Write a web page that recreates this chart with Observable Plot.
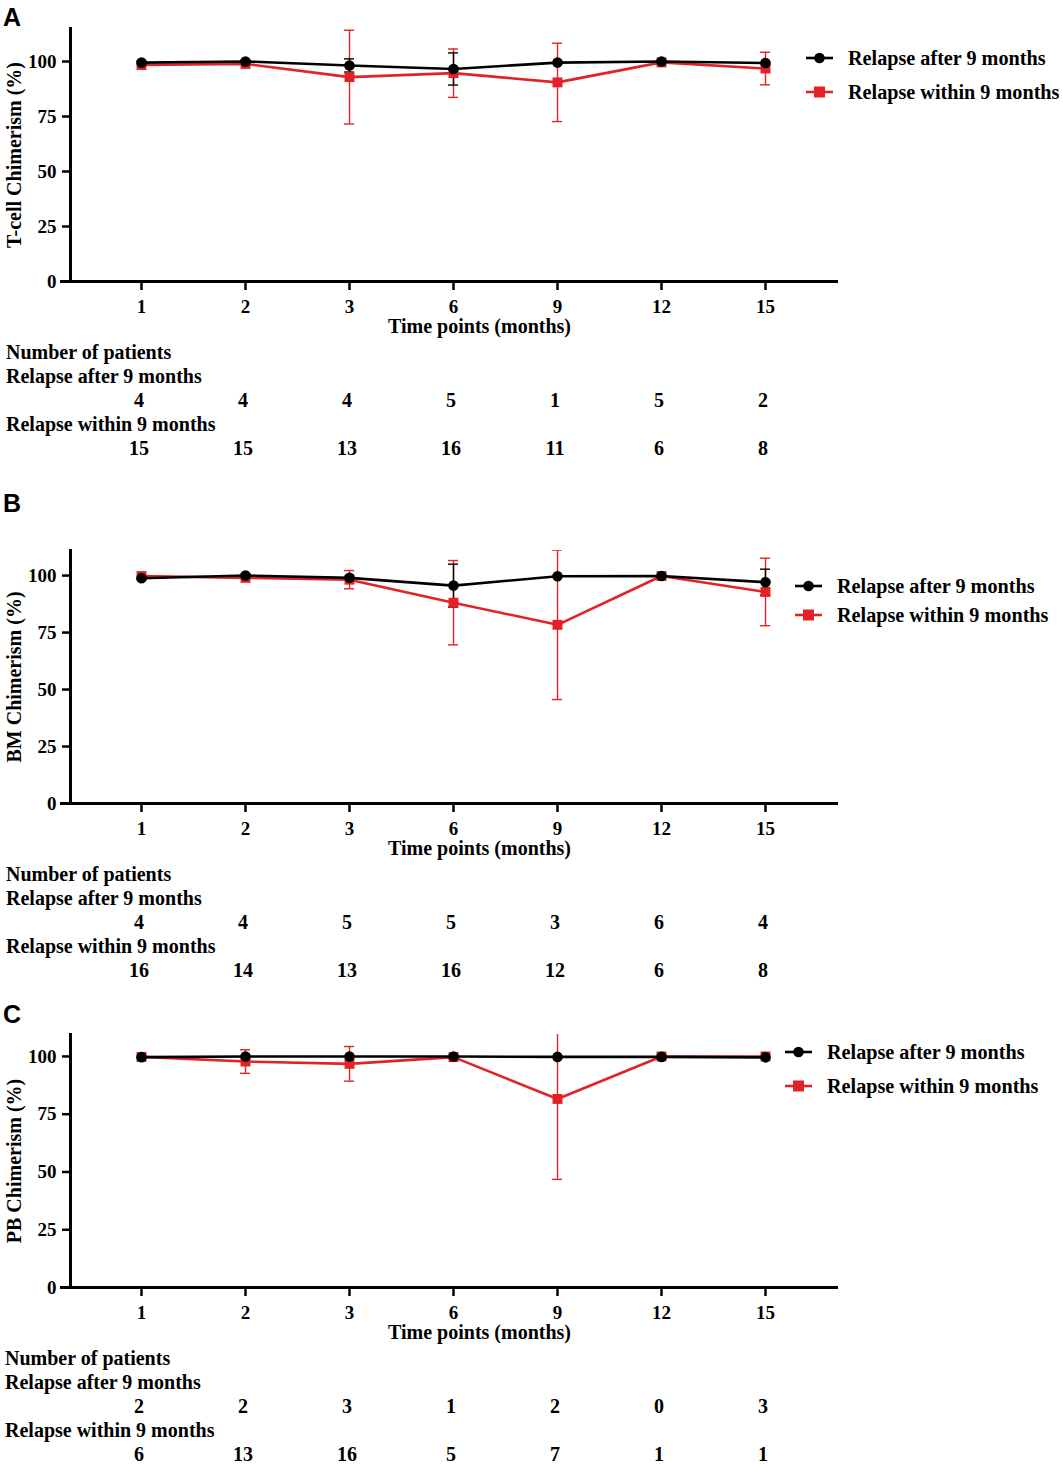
<!DOCTYPE html>
<html><head><meta charset="utf-8">
<script src="https://cdn.jsdelivr.net/npm/d3@7"></script>
<script src="https://cdn.jsdelivr.net/npm/@observablehq/plot@0.6"></script>
<style>
body{margin:0;background:#fff;}
#root{position:relative;width:1063px;height:1464px;overflow:hidden;font-family:"Liberation Serif","Times New Roman",serif;font-weight:bold;color:#000;}
.abs{position:absolute;white-space:nowrap;line-height:1;}
.letter{font-family:"Liberation Sans",Arial,sans-serif;font-size:25px;font-weight:bold;}
.tbl{font-size:20px;transform:translateY(-50%);}
.num{font-size:20px;transform:translate(-50%,-50%);}
.leg{font-size:20.2px;transform:translateY(-50%);}
svg.plot{position:absolute;left:0;overflow:visible;}
</style></head>
<body><div id="root"></div>
<script>
const timepoints = ["1","2","3","6","9","12","15"];
const seriesNames = ["Relapse after 9 months","Relapse within 9 months"];
const seriesColors = ["#000000","#e32228"];
const yTicks = [0,25,50,75,100];

// Panel A: T-cell chimerism
const tcellAfterMean  = [99.5,100,98.2,96.6,99.5,100,99.3];
const tcellAfterSD    = [0,0,3,7.3,0,0,0];
const tcellWithinMean = [98.4,98.9,92.9,94.7,90.5,99.6,96.8];
const tcellWithinSD   = [0,0,21.3,11,17.8,0,7.4];
const tcellNAfter  = [4,4,4,5,1,5,2];
const tcellNWithin = [15,15,13,16,11,6,8];

// Panel B: BM chimerism
const bmAfterMean  = [98.8,100,99,95.6,99.7,99.8,97.1];
const bmAfterSD    = [0,0,0,9.4,0,0,5.7];
const bmWithinMean = [99.8,99,98.2,88.1,78.4,99.8,92.8];
const bmWithinSD   = [0,0,4,18.5,32.8,0,14.8];
const bmNAfter  = [4,4,5,5,3,6,4];
const bmNWithin = [16,14,13,16,12,6,8];

// Panel C: PB chimerism
const pbAfterMean  = [99.7,100,100,100,99.8,99.8,99.6];
const pbAfterSD    = [0,0,0,0,0,0,0];
const pbWithinMean = [99.8,97.8,96.8,99.7,81.6,100,100];
const pbWithinSD   = [0,5.1,7.5,0,34.8,0,0];
const pbNAfter  = [2,2,3,1,2,0,3];
const pbNWithin = [6,13,16,5,7,1,1];

const panels = [
  {letter:"A", letterTop:5, svgTop:0, yMax:115, yLabel:"T-cell Chimerism (%)",
   after:[tcellAfterMean,tcellAfterSD], within:[tcellWithinMean,tcellWithinSD],
   nAfter:tcellNAfter, nWithin:tcellNWithin, legX:806, legY:[58,92], tblLeft:6},
  {letter:"B", letterTop:491, svgTop:522, yMax:111, yLabel:"BM Chimerism (%)",
   after:[bmAfterMean,bmAfterSD], within:[bmWithinMean,bmWithinSD],
   nAfter:bmNAfter, nWithin:bmNWithin, legX:795, legY:[586,615], tblLeft:6},
  {letter:"C", letterTop:1002, svgTop:1006, yMax:109.5, yLabel:"PB Chimerism (%)",
   after:[pbAfterMean,pbAfterSD], within:[pbWithinMean,pbWithinSD],
   nAfter:pbNAfter, nWithin:pbNWithin, legX:785, legY:[1052,1086], tblLeft:5}
];

const root = document.getElementById("root");
function addDiv(cls, text, left, top){
  const d = document.createElement("div");
  d.className = "abs " + cls;
  d.textContent = text;
  d.style.left = left + "px";
  d.style.top = top + "px";
  root.appendChild(d);
  return d;
}

const H = 340, MT = 28, MB = 59, ML = 70, MR = 12, W = 850;

panels.forEach(p => {
  const rows = [];
  timepoints.forEach((t,i) => {
    rows.push({t, s: seriesNames[1], m: p.within[0][i], sd: p.within[1][i]});
  });
  timepoints.forEach((t,i) => {
    rows.push({t, s: seriesNames[0], m: p.after[0][i], sd: p.after[1][i]});
  });
  const errRows = rows.filter(d => d.sd > 0);
  const redRows = rows.filter(d => d.s === seriesNames[1]);
  const blackRows = rows.filter(d => d.s === seriesNames[0]);
  const errRed = errRows.filter(d => d.s === seriesNames[1]);
  const errBlack = errRows.filter(d => d.s === seriesNames[0]);

  const errMarks = (data, color) => [
    Plot.ruleX(data, {x:"t", y1: d => d.m - d.sd, y2: d => d.m + d.sd, stroke: color, strokeWidth: 1.4, clip: true}),
    Plot.ruleY(data, {x1:"t", x2:"t", y: d => d.m + d.sd, insetLeft:-5, insetRight:-5, stroke: color, strokeWidth: 1.4, clip: true}),
    Plot.ruleY(data, {x1:"t", x2:"t", y: d => d.m - d.sd, insetLeft:-5, insetRight:-5, stroke: color, strokeWidth: 1.4, clip: true})
  ];

  const plot = Plot.plot({
    width: W, height: H,
    marginLeft: ML, marginRight: MR, marginTop: MT, marginBottom: MB,
    style: {fontFamily: '"Liberation Serif","Times New Roman",serif', fontWeight: "bold", fontSize: "19px", color: "#000", background: "transparent", overflow: "visible"},
    x: {type: "point", domain: timepoints, range: [139, 767], padding: 0},
    y: {domain: [0, p.yMax]},
    marks: [
      Plot.axisY(yTicks, {tickSize: 8, strokeWidth: 2.5, tickPadding: 6, label: null}),
      Plot.axisX({tickSize: 9, strokeWidth: 2.5, tickPadding: 9, label: null}),
      ...errMarks(errRed, seriesColors[1]),
      ...errMarks(errBlack, seriesColors[0]),
      Plot.line(redRows, {x:"t", y:"m", stroke: seriesColors[1], strokeWidth: 2.6}),
      Plot.dot(redRows, {x:"t", y:"m", symbol:"square", r: 5.6, fill: seriesColors[1], stroke: "none"}),
      Plot.line(blackRows, {x:"t", y:"m", stroke: seriesColors[0], strokeWidth: 2.6}),
      Plot.dot(blackRows, {x:"t", y:"m", symbol:"circle", r: 5.3, fill: seriesColors[0], stroke: "none"}),
      Plot.ruleY([0], {strokeWidth: 3, insetLeft: -10}),
      Plot.frame({anchor: "left", strokeWidth: 3}),
      Plot.text([p.yLabel], {frameAnchor: "left", textAnchor: "middle", rotate: -90, dx: -56, fontSize: 20, fontWeight: "bold"}),
      Plot.text(["Time points (months)"], {frameAnchor: "bottom", dx: 25, dy: 51, fontSize: 20, fontWeight: "bold"})
    ]
  });
  plot.classList.add("plot");
  plot.style.top = p.svgTop + "px";
  root.appendChild(plot);

  addDiv("letter", p.letter, 3, p.letterTop);

  // legend
  const legSvg = d3.create("svg").attr("width", 40).attr("height", 100)
    .style("position","absolute").style("left", (p.legX - 5) + "px").style("top", (p.legY[0] - 20) + "px");
  [0,1].forEach(k => {
    const yy = p.legY[k] - p.legY[0] + 20;
    legSvg.append("line").attr("x1",5).attr("x2",32).attr("y1",yy).attr("y2",yy)
      .attr("stroke", seriesColors[k]).attr("stroke-width", 2.6);
    if (k === 0) legSvg.append("circle").attr("cx",18.5).attr("cy",yy).attr("r",5.3).attr("fill",seriesColors[k]);
    else legSvg.append("rect").attr("x",13).attr("y",yy-5.5).attr("width",11).attr("height",11).attr("fill",seriesColors[k]);
    addDiv("leg", seriesNames[k], p.legX + 42, p.legY[k]);
  });
  root.appendChild(legSvg.node());

  // table
  const xs = plot.scale("x");
  const frameBottom = p.svgTop + H - MB;
  const t0 = frameBottom + 71;
  addDiv("tbl", "Number of patients", p.tblLeft, t0);
  addDiv("tbl", seriesNames[0], p.tblLeft, t0 + 24);
  timepoints.forEach((t,i) => addDiv("num", String(p.nAfter[i]), xs.apply(t) - 2, t0 + 48));
  addDiv("tbl", seriesNames[1], p.tblLeft, t0 + 72);
  timepoints.forEach((t,i) => addDiv("num", String(p.nWithin[i]), xs.apply(t) - 2, t0 + 96));
});
</script>
</body></html>
